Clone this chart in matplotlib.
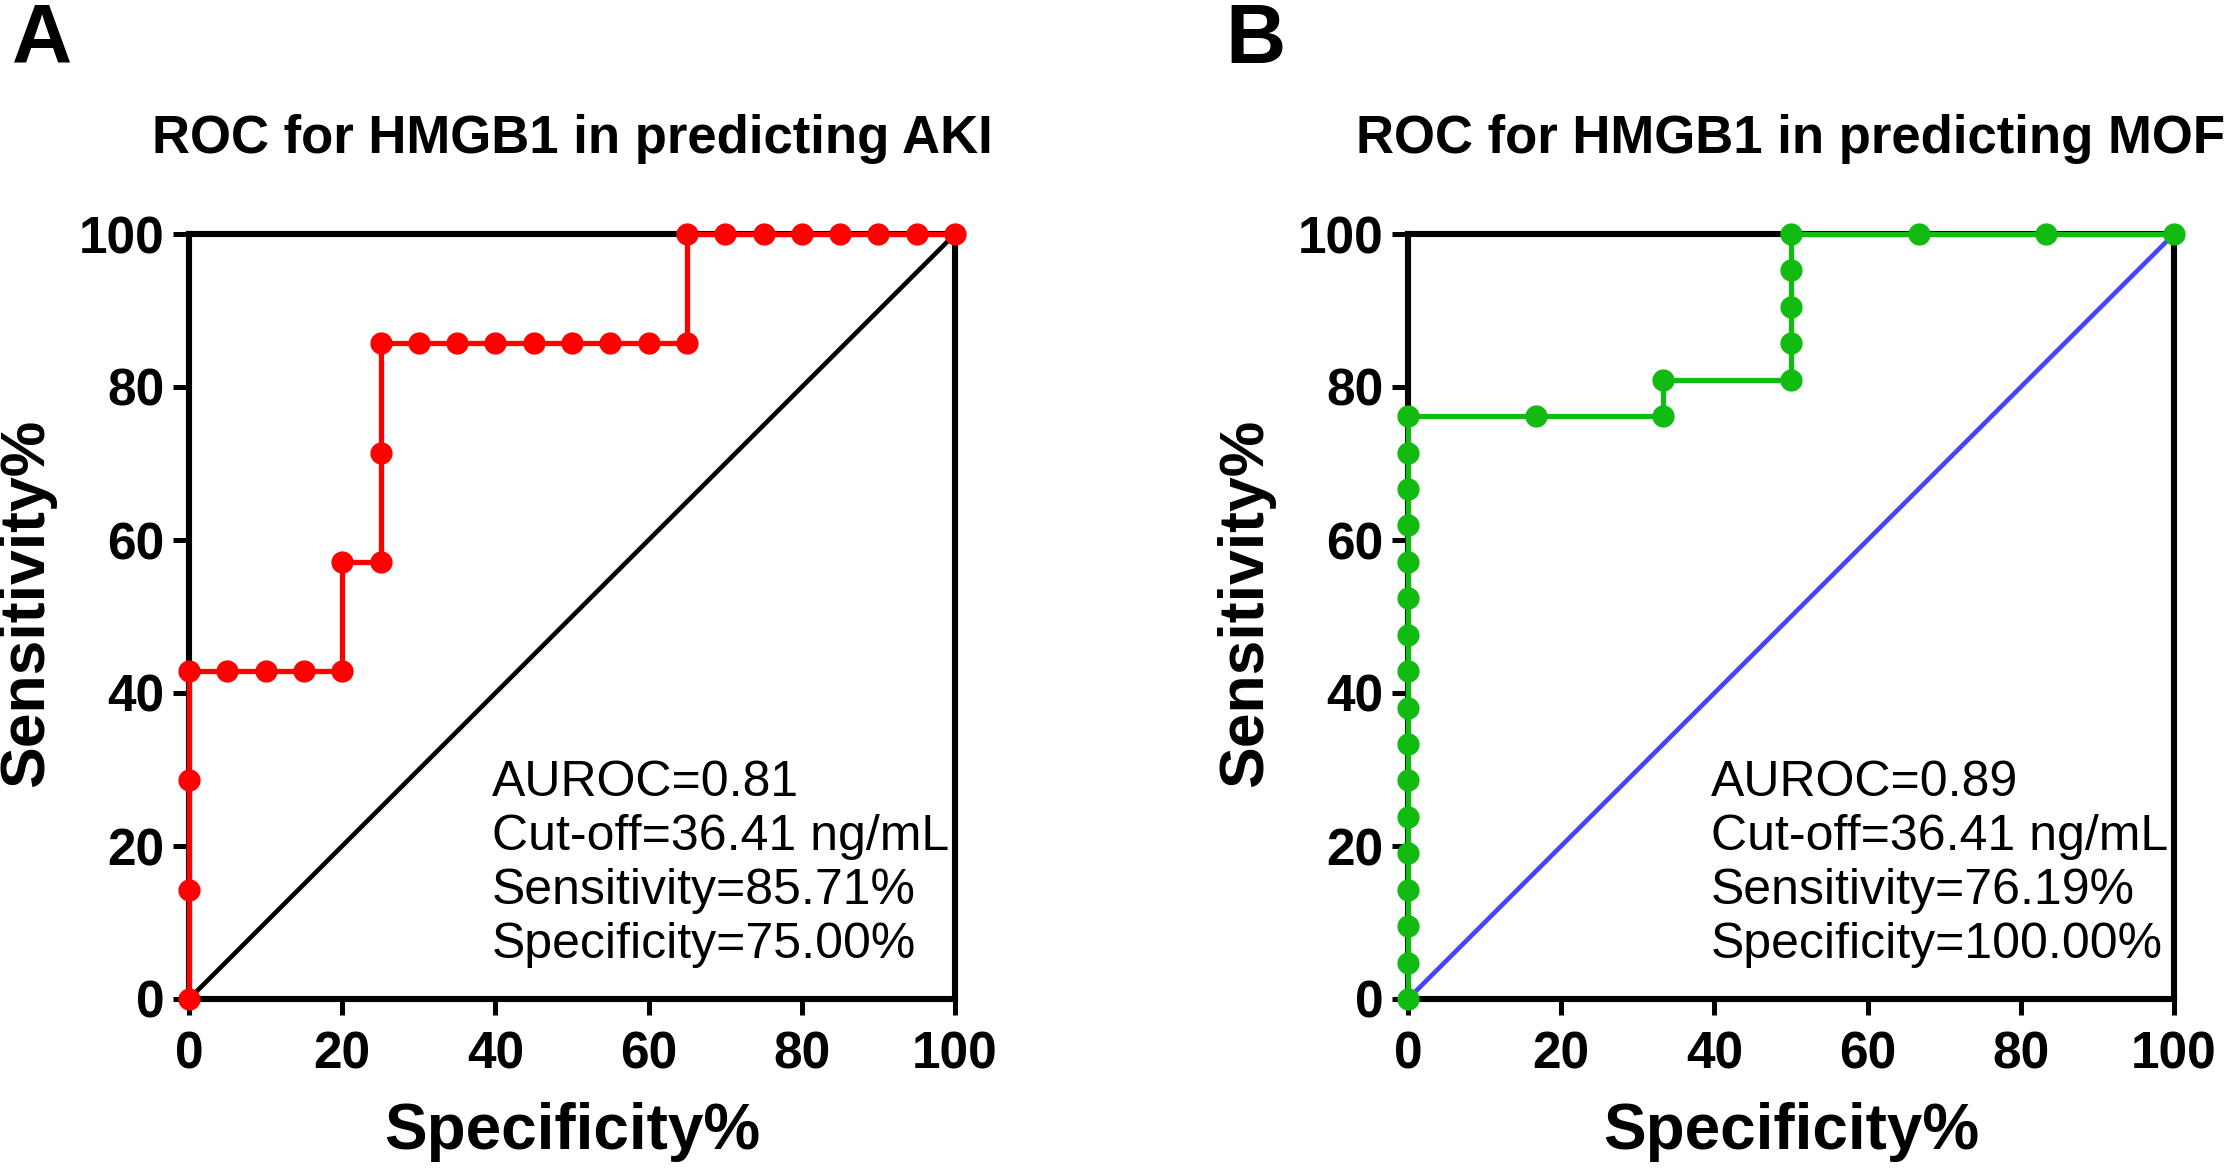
import matplotlib
matplotlib.use("Agg")
import matplotlib.pyplot as plt

# --- Data ---
# Panel A: HMGB1 predicting AKI (7 positives, 20 negatives)
aki_spec = [0, 0, 0, 0, 5, 10, 15, 20, 20, 25, 25, 25, 30, 35, 40, 45, 50, 55,
            60, 65, 65, 70, 75, 80, 85, 90, 95, 100]
aki_sens = [0, 14.29, 28.57, 42.86, 42.86, 42.86, 42.86, 42.86, 57.14, 57.14,
            71.43, 85.71, 85.71, 85.71, 85.71, 85.71, 85.71, 85.71, 85.71,
            85.71, 100, 100, 100, 100, 100, 100, 100, 100]
aki_text = ["AUROC=0.81", "Cut-off=36.41 ng/mL", "Sensitivity=85.71%",
            "Specificity=75.00%"]

# Panel B: HMGB1 predicting MOF (21 positives, 6 negatives)
mof_spec = [0] * 17 + [16.67, 33.33, 33.33, 50, 50, 50, 50, 50, 66.67, 83.33, 100]
mof_sens = [0, 4.76, 9.52, 14.29, 19.05, 23.81, 28.57, 33.33, 38.10, 42.86,
            47.62, 52.38, 57.14, 61.90, 66.67, 71.43, 76.19,
            76.19, 76.19, 80.95, 80.95, 85.71, 90.48, 95.24, 100, 100, 100, 100]
mof_text = ["AUROC=0.89", "Cut-off=36.41 ng/mL", "Sensitivity=76.19%",
            "Specificity=100.00%"]

ticks = [0, 20, 40, 60, 80, 100]

plt.rcParams['font.family'] = ['Liberation Sans', 'DejaVu Sans']

W, H = 2234, 1173
fig = plt.figure(figsize=(W / 100, H / 100), dpi=100)


def draw_panel(left_px, letter, letter_x, title, xs, ys, color, diag_color, lines):
    ax = fig.add_axes([left_px / W, (H - 999) / H, 766 / W, 765 / H])
    ax.plot([0, 100], [0, 100], color=diag_color, lw=3.3, zorder=2, clip_on=False)
    ax.plot(xs, ys, '-o', color=color, lw=3.8, markersize=15, zorder=3, clip_on=False)
    ax.set_xlim(0, 100)
    ax.set_ylim(0, 100)
    ax.set_xticks(ticks)
    ax.set_yticks(ticks)
    for s in ax.spines.values():
        s.set_linewidth(4.4)
    ax.tick_params(direction='out', length=11.5, width=3.6, labelsize=37,
                   top=False, right=False)
    ax.tick_params(axis='x', pad=11)
    ax.tick_params(axis='y', pad=6)
    for lab in ax.get_xticklabels() + ax.get_yticklabels():
        lab.set_fontweight('bold')
    ax.set_title(title, fontsize=38, fontweight='bold', pad=58)
    ax.set_xlabel("Specificity%", fontsize=46, fontweight='bold')
    ax.set_ylabel("Sensitivity%", fontsize=45, fontweight='bold')
    ax.xaxis.set_label_coords(0.5, -0.135)
    ax.yaxis.set_label_coords(-0.174, 0.518)
    ax.text(0.395, 0.054, "\n".join(lines), transform=ax.transAxes, fontsize=36,
            ha='left', va='baseline', linespacing=1.22)
    fig.text(letter_x / W, 1 - 2 / H, letter, fontsize=60, fontweight='bold',
             ha='left', va='top')
    return ax


draw_panel(189, "A", 12, "ROC for HMGB1 in predicting AKI", aki_spec, aki_sens,
           '#FF0000', 'black', aki_text)
draw_panel(1408, "B", 1225, "ROC for HMGB1 in predicting MOF", mof_spec, mof_sens,
           '#11BB11', '#4444FF', mof_text)

fig.savefig("out.png", dpi=100)
